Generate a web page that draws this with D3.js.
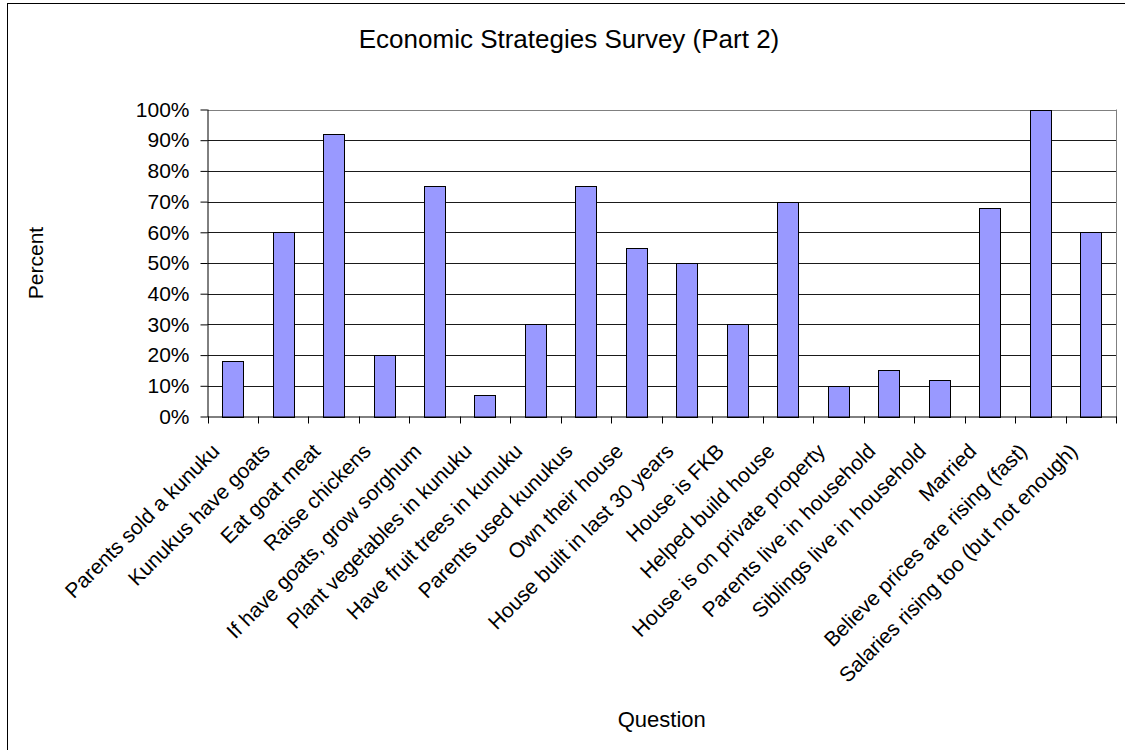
<!DOCTYPE html>
<html>
<head>
<meta charset="utf-8">
<script src="https://cdn.jsdelivr.net/npm/d3@7"></script>
<style>
  html, body { margin: 0; padding: 0; background: #fff; }
  svg { display: block; }
  text { font-family: "Liberation Sans", Arial, sans-serif; fill: #000; }
</style>
</head>
<body>
<svg id="chart" width="1125" height="750"></svg>
<script>
// Survey questions and share of respondents answering yes
const questions = [
  "Parents sold a kunuku",
  "Kunukus have goats",
  "Eat goat meat",
  "Raise chickens",
  "If have goats, grow sorghum",
  "Plant vegetables in kunuku",
  "Have fruit trees in kunuku",
  "Parents used kunukus",
  "Own their house",
  "House built in last 30 years",
  "House is FKB",
  "Helped build house",
  "House is on private property",
  "Parents live in household",
  "Siblings live in household",
  "Married",
  "Believe prices are rising (fast)",
  "Salaries rising too (but not enough)"
];
const percents = [0.18, 0.60, 0.92, 0.20, 0.75, 0.07, 0.30, 0.75, 0.55, 0.50,
                  0.30, 0.70, 0.10, 0.15, 0.12, 0.68, 1.00, 0.60];
const yTicks = [0, 0.1, 0.2, 0.3, 0.4, 0.5, 0.6, 0.7, 0.8, 0.9, 1.0];

const titleText = "Economic Strategies Survey (Part 2)";
const xTitle = "Question";
const yTitle = "Percent";

const svg = d3.select("#chart");

// plot area
const plotLeft = 207.5, plotRight = 1116, plotTop = 109.5, plotBottom = 416.5;

const x = d3.scaleBand()
  .domain(questions)
  .range([plotLeft, plotRight])
  .paddingInner(0.58)
  .paddingOuter(0.29);

const y = d3.scaleLinear().domain([0, 1]).range([plotBottom, plotTop]);

// outer chart frame (extends past the right and bottom edges)
svg.append("rect")
  .attr("x", 7.5).attr("y", 3.5)
  .attr("width", 1123).attr("height", 760)
  .attr("fill", "none").attr("stroke", "#000").attr("stroke-width", 1);

// gridlines
svg.append("g")
  .selectAll("line")
  .data(yTicks.filter(d => d > 0))
  .join("line")
  .attr("x1", plotLeft).attr("x2", plotRight)
  .attr("y1", d => Math.round(y(d)) + 0.5)
  .attr("y2", d => Math.round(y(d)) + 0.5)
  .attr("stroke", d => d === 1 ? "#808080" : "#1a1a1a")
  .attr("stroke-width", 1);

// plot area right border
svg.append("line")
  .attr("x1", plotRight + 0.5).attr("x2", plotRight + 0.5)
  .attr("y1", plotTop).attr("y2", plotBottom)
  .attr("stroke", "#808080");

// bars
svg.append("g")
  .selectAll("rect")
  .data(percents)
  .join("rect")
  .attr("x", (d, i) => Math.round(x(questions[i])) + 0.5)
  .attr("y", d => Math.round(y(d)) + 0.5)
  .attr("width", Math.round(x.bandwidth()))
  .attr("height", d => Math.round(plotBottom) - Math.round(y(d)))
  .attr("fill", "#9999FF")
  .attr("stroke", "#000")
  .attr("stroke-width", 1);

// y axis
const yAxis = d3.axisLeft(y)
  .tickValues(yTicks)
  .tickFormat(d3.format(".0%"))
  .tickSize(7)
  .tickPadding(11);

const gy = svg.append("g")
  .attr("transform", `translate(${plotLeft},0)`)
  .call(yAxis);
gy.select(".domain").attr("stroke", "#000").attr("d", `M0.5,${plotTop}V${plotBottom + 0.5}`);
gy.selectAll(".tick line").attr("stroke", "#000");
gy.selectAll(".tick text")
  .attr("font-size", 21)
  .attr("font-family", "Liberation Sans, Arial, sans-serif")
  .attr("fill", "#000");

// x axis: baseline with ticks at category boundaries
const step = x.step();
const boundaries = d3.range(questions.length + 1).map(i => plotLeft + i * step);
const gx = svg.append("g");
gx.append("line")
  .attr("x1", plotLeft).attr("x2", plotRight + 1)
  .attr("y1", plotBottom + 0.5).attr("y2", plotBottom + 0.5)
  .attr("stroke", "#000");
gx.selectAll("line.tk")
  .data(boundaries)
  .join("line")
  .attr("class", "tk")
  .attr("x1", d => Math.round(d) + 0.5).attr("x2", d => Math.round(d) + 0.5)
  .attr("y1", plotBottom).attr("y2", plotBottom + 7)
  .attr("stroke", "#000");

// rotated category labels
gx.selectAll("text")
  .data(questions)
  .join("text")
  .attr("transform", d => `translate(${x(d) + x.bandwidth() / 2 - 12},${plotBottom + 36}) rotate(-45)`)
  .attr("text-anchor", "end")
  .attr("font-size", 21)
  .text(d => d);

// titles
svg.append("text")
  .attr("x", 569).attr("y", 48)
  .attr("text-anchor", "middle")
  .attr("font-size", 26)
  .text(titleText);

svg.append("text")
  .attr("x", (plotLeft + plotRight) / 2).attr("y", 727)
  .attr("text-anchor", "middle")
  .attr("font-size", 22)
  .text(xTitle);

svg.append("text")
  .attr("transform", `translate(43,${(plotTop + plotBottom) / 2}) rotate(-90)`)
  .attr("text-anchor", "middle")
  .attr("font-size", 21)
  .text(yTitle);
</script>
</body>
</html>
